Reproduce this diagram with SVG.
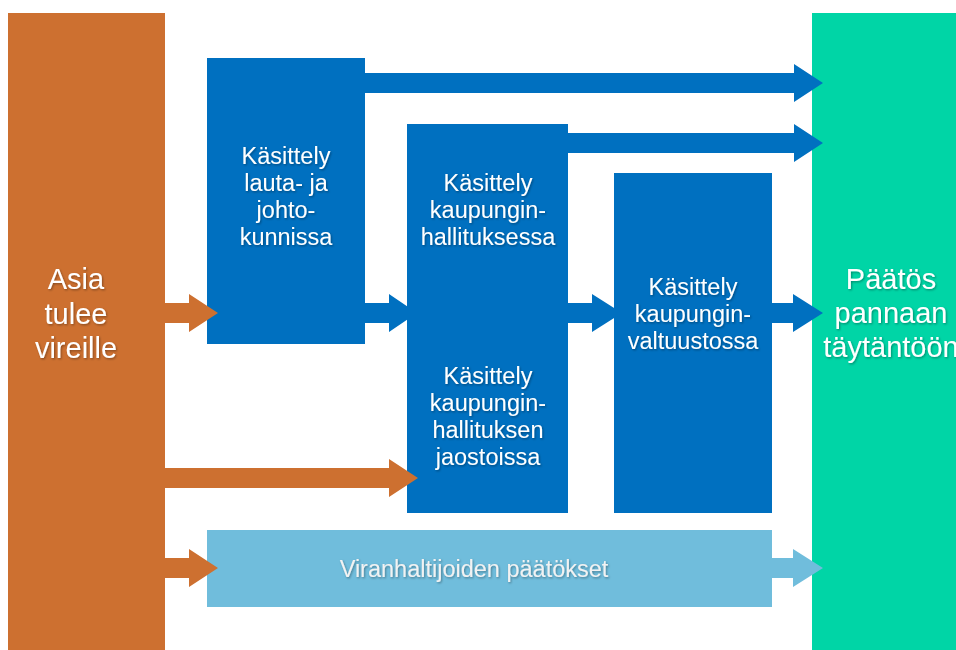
<svg xmlns="http://www.w3.org/2000/svg" width="956" height="650" viewBox="0 0 956 650">
<defs>
<filter id="sh" x="-10%" y="-10%" width="120%" height="130%">
<feDropShadow dx="1" dy="1.2" stdDeviation="0.8" flood-color="#000" flood-opacity="0.35"/>
</filter>
</defs>
<style>
text{font-family:"Liberation Sans",Arial,sans-serif;fill:#fff;text-anchor:middle;filter:url(#sh)}
.m{font-size:23.5px}
.b{font-size:29px}
.v{font-size:23.5px;fill:#f2f2f2}
.or{fill:#CD7030}
.bl{fill:#0070C0}
.lb{fill:#70BDDC}
.gr{fill:#00D5A6}
</style>
<rect width="956" height="650" fill="#fff"/>
<g id="asia">
<rect class="or" x="8" y="13" width="157" height="637"/>
<text class="b" x="76" y="289">Asia</text>
<text class="b" x="76" y="324">tulee</text>
<text class="b" x="76" y="358">vireille</text>
</g>
<g id="paatos">
<rect class="gr" x="812" y="13" width="144" height="637"/>
<text class="b" x="891" y="289">Päätös</text>
<text class="b" x="891" y="323">pannaan</text>
<text class="b" x="891" y="357">täytäntöön</text>
</g>
<g id="lauta">
<rect class="bl" x="207" y="58" width="158" height="286"/>
<text class="m" x="286" y="164">Käsittely</text>
<text class="m" x="286" y="191">lauta- ja</text>
<text class="m" x="286" y="218">johto-</text>
<text class="m" x="286" y="245">kunnissa</text>
</g>
<g id="hallitus">
<rect class="bl" x="407" y="124" width="161" height="389"/>
<text class="m" x="488" y="191">Käsittely</text>
<text class="m" x="488" y="218">kaupungin-</text>
<text class="m" x="488" y="245">hallituksessa</text>
<text class="m" x="488" y="384">Käsittely</text>
<text class="m" x="488" y="411">kaupungin-</text>
<text class="m" x="488" y="438">hallituksen</text>
<text class="m" x="488" y="465">jaostoissa</text>
</g>
<g id="valtuusto">
<rect class="bl" x="614" y="173" width="158" height="340"/>
<text class="m" x="693" y="295">Käsittely</text>
<text class="m" x="693" y="322">kaupungin-</text>
<text class="m" x="693" y="349">valtuustossa</text>
</g>
<g id="viranhaltijat">
<rect class="lb" x="207" y="530" width="565" height="77"/>
<text class="v" x="474" y="577">Viranhaltijoiden päätökset</text>
</g>
<g id="connectors">
<polygon class="or" points="165,303 189,303 189,294 218,313 189,332 189,323 165,323"/>
<polygon class="or" points="165,468 389,468 389,459 418,478 389,497 389,488 165,488"/>
<polygon class="or" points="165,558 189,558 189,549 218,568 189,587 189,578 165,578"/>
<polygon class="bl" points="365,303 389,303 389,294 417,313 389,332 389,323 365,323"/>
<polygon class="bl" points="568,303 592,303 592,294 622,313 592,332 592,323 568,323"/>
<polygon class="bl" points="772,303 793,303 793,294 823,313 793,332 793,323 772,323"/>
<polygon class="bl" points="365,73 794,73 794,64 823,83 794,102 794,93 365,93"/>
<polygon class="bl" points="568,133 794,133 794,124 823,143 794,162 794,153 568,153"/>
<polygon class="lb" points="772,558 793,558 793,549 823,568 793,587 793,578 772,578"/>
</g>
</svg>
